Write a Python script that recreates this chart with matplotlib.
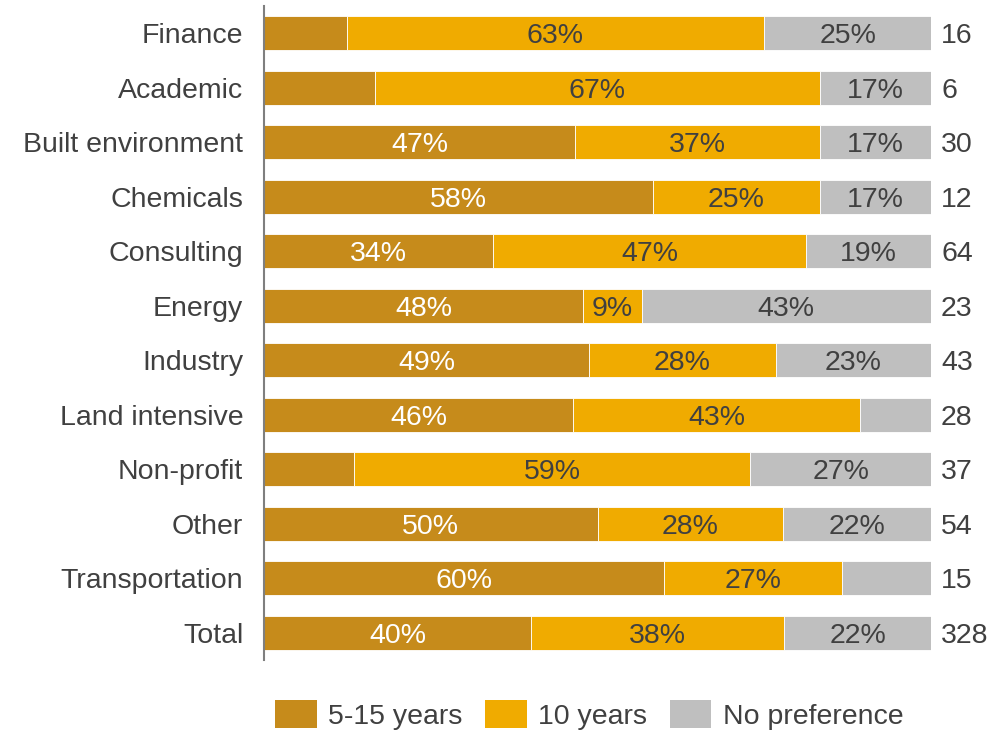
import matplotlib.pyplot as plt
from matplotlib.patches import Patch

categories = ["Finance", "Academic", "Built environment", "Chemicals", "Consulting",
              "Energy", "Industry", "Land intensive", "Non-profit", "Other",
              "Transportation", "Total"]
years_5_15 = [12.4, 16.7, 46.7, 58.3, 34.4, 47.9, 48.8, 46.4, 13.5, 50.0, 60.0, 40.0]
years_10 = [62.6, 66.6, 36.6, 25.0, 46.9, 8.7, 27.9, 42.9, 59.4, 27.8, 26.7, 38.0]
no_pref = [25.0, 16.7, 16.7, 16.7, 18.7, 43.4, 23.3, 10.7, 27.1, 22.2, 13.3, 22.0]
counts = [16, 6, 30, 12, 64, 23, 43, 28, 37, 54, 15, 328]

# segments whose label is not shown (row, series)
hidden = [(0, 0), (1, 0), (8, 0), (7, 2), (10, 2)]

series = [("5-15 years", years_5_15, "#C68B1B", "white"),
          ("10 years", years_10, "#F0AB00", "#404040"),
          ("No preference", no_pref, "#BFBFBF", "#404040")]

plt.rcParams['font.family'] = ['Liberation Sans', 'DejaVu Sans']
fs = 20.5
dark = "#404040"

fig = plt.figure(figsize=(9.92, 7.32), dpi=100)
ax = fig.add_axes([264 / 992, 1 - 660 / 732, 667 / 992, 654 / 732])

y = list(range(len(categories)))
left = [0.0] * len(categories)
for s, (name, vals, color, tcolor) in enumerate(series):
    ax.barh(y, vals, left=left, height=0.62, color=color,
            edgecolor="white", linewidth=0.6, label=name)
    for i, v in enumerate(vals):
        if (i, s) in hidden:
            continue
        ax.text(left[i] + v / 2, i, f"{v:.0f}%", ha="center", va="center_baseline",
                fontsize=fs, color=tcolor)
    left = [a + b for a, b in zip(left, vals)]

for i, n in enumerate(counts):
    ax.text(101.5, i, str(n), ha="left", va="center_baseline", fontsize=fs, color=dark)

ax.set_xlim(0, 100)
ax.set_ylim(len(categories) - 0.5, -0.5)
ax.set_yticks(y)
ax.set_yticklabels(categories, fontsize=fs, color=dark, va="center_baseline")
ax.tick_params(axis="y", length=0, pad=15)
ax.set_xticks([])
for side in ["top", "right", "bottom"]:
    ax.spines[side].set_visible(False)
ax.spines["left"].set_color("#7F7F7F")
ax.spines["left"].set_linewidth(1.5)

handles = [Patch(facecolor=c, edgecolor="none", label=n) for n, _, c, _ in series]
leg = fig.legend(handles=handles, loc="center", bbox_to_anchor=(589 / 992, 1 - 715 / 732),
                 ncol=3, frameon=False, fontsize=fs, handlelength=1.47,
                 handleheight=1.12, handletextpad=0.39, columnspacing=0.8,
                 borderpad=0, borderaxespad=0)
for t in leg.get_texts():
    t.set_color(dark)

fig.savefig("out.png", dpi=100)
